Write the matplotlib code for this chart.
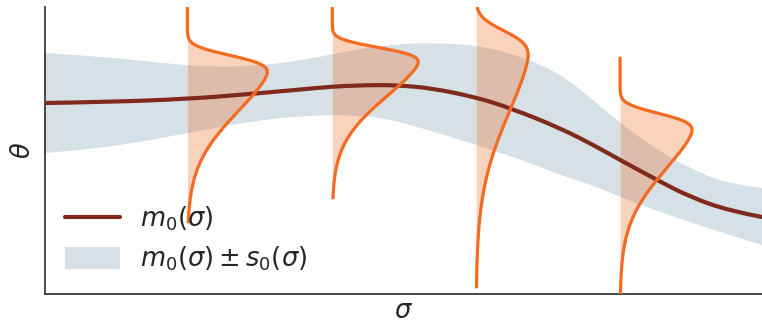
import math
import numpy as np
import matplotlib
matplotlib.use("Agg")
import matplotlib.pyplot as plt
from matplotlib.path import Path
from matplotlib.patches import PathPatch, Patch
from matplotlib.lines import Line2D

# ---- data (arbitrary units) ----
mean_x = [0, 63, 143, 206, 256, 289, 313, 336, 356, 386, 431, 466, 516, 553, 576, 613, 646, 686, 718]
mean_y = [191, 192, 195, 200, 204.5, 207.5, 208.5, 209, 208.5, 206, 197, 186, 166, 147, 134, 114, 97, 83, 77]

band_up_x = [0, 63, 116, 166, 209, 256, 313, 356, 386, 433, 479, 516, 543, 576, 613, 653, 686, 718]
band_up_y = [241, 237, 231, 227, 228, 233, 245, 250, 251, 249, 237, 220, 199, 171, 144, 122, 110, 106]

band_lo_x = [0, 63, 143, 209, 256, 296, 336, 381, 433, 486, 516, 553, 576, 619, 669, 718]
band_lo_y = [141, 146, 161, 173, 178, 179, 177, 165, 149, 131, 119, 107, 97, 81, 64, 49]

# vertical densities: baseline position, mode, scale, skew, peak width, vertical extent
dens_base = [143, 288, 432, 576]
dens_mode = [222, 232, 239, 164]
dens_scale = [55, 48, 80, 55]
dens_skew = [7, 7, 7, 7]
dens_peak = [80, 86, 52, 72]
dens_top = [286, 286, 286, 236]
dens_bottom = [72, 96, 7, 1]

labels = [r"$m_0(\sigma)$", r"$m_0(\sigma) \pm s_0(\sigma)$"]

# ---- colours ----
c_mean = "#7f2a1a"
c_band = "#d6e0e7"
c_dens = "#f26b21"
c_text = "#262626"
FS = 18.5


def smooth(xs, ys):
    pts = list(zip(xs, ys))
    verts = [pts[0]]
    codes = [Path.MOVETO]
    n = len(pts)
    for i in range(1, n - 1):
        if i == n - 2:
            end = pts[-1]
        else:
            end = ((pts[i][0] + pts[i + 1][0]) / 2, (pts[i][1] + pts[i + 1][1]) / 2)
        verts += [pts[i], end]
        codes += [Path.CURVE3, Path.CURVE3]
    return verts, codes


fig = plt.figure(figsize=(7.62, 3.23), dpi=100)
ax = fig.add_axes([44.5 / 762, 29 / 323, (762 - 44.5) / 762, 287 / 323])

# band
vu, cu = smooth(band_up_x, band_up_y)
vl, cl = smooth(band_lo_x[::-1], band_lo_y[::-1])
cl[0] = Path.LINETO
band_path = Path(vu + vl + [vu[0]], cu + cl + [Path.CLOSEPOLY])
ax.add_patch(PathPatch(band_path, facecolor=c_band, edgecolor="none", lw=0, zorder=1))

# mean
vm, cm = smooth(mean_x, mean_y)
ax.add_patch(PathPatch(Path(vm, cm), facecolor="none", edgecolor=c_mean, lw=3.0,
                       capstyle="round", zorder=3))

erf = np.vectorize(math.erf)


def sn(t, a):
    return np.exp(-0.5 * t * t) * 0.5 * (1 + erf(a * t / math.sqrt(2)))


for b, m, s, a, p, top, bot in zip(dens_base, dens_mode, dens_scale, dens_skew,
                                   dens_peak, dens_top, dens_bottom):
    g = np.linspace(-3, 3, 4001)
    m0 = g[np.argmax(sn(g, a))]
    yy = np.linspace(bot, top, 600)
    t = (m - yy) / s + m0
    f = sn(t, a)
    f = f / f.max() * p
    ax.fill_betweenx(yy, b, b + f, color=c_dens, alpha=0.3, lw=0, zorder=2)
    ax.plot(b + f, yy, color=c_dens, lw=2.3, zorder=4, solid_capstyle="round")

ax.set_xlim(0, 718)
ax.set_ylim(0, 287)
ax.set_xticks([])
ax.set_yticks([])
for sp in ["top", "right"]:
    ax.spines[sp].set_visible(False)
for sp in ["left", "bottom"]:
    ax.spines[sp].set_color("#3a3a3a")
    ax.spines[sp].set_linewidth(1.3)

ax.set_xlabel(r"$\sigma$", fontsize=FS, color=c_text, labelpad=3)
ax.set_ylabel(r"$\theta$", fontsize=FS, color=c_text, labelpad=6)

handles = [Line2D([], [], color=c_mean, lw=3.0, solid_capstyle="round"),
           Patch(facecolor=c_band, edgecolor="none")]
ax.legend(handles, labels, loc="lower left",
          frameon=False, fontsize=FS, handlelength=2.15, handleheight=0.9,
          handletextpad=0.75, labelspacing=0.47, borderaxespad=0.4,
          labelcolor=c_text)

fig.savefig("out.png", dpi=100)
